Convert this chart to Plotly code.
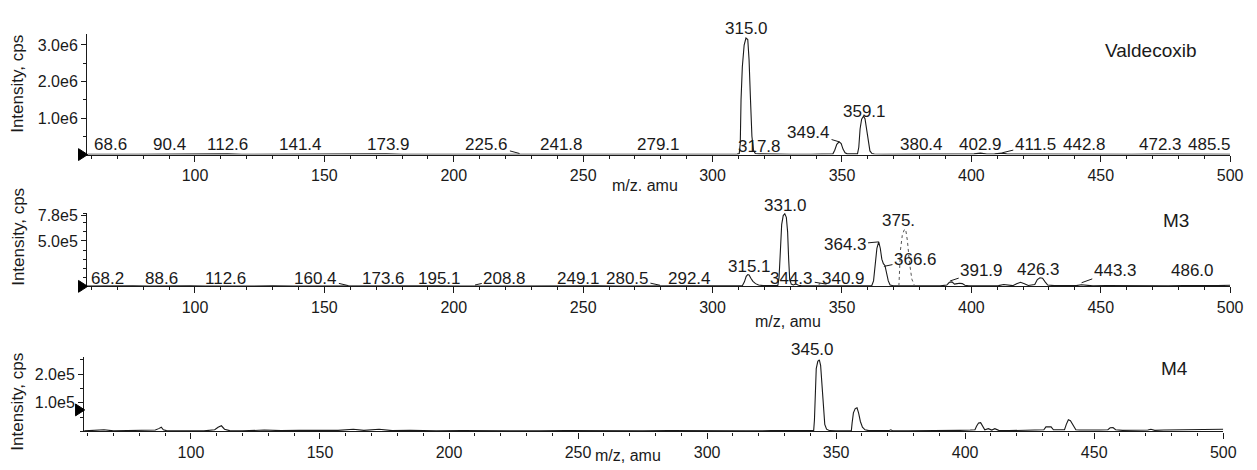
import plotly.graph_objects as go

# ---------------- data ----------------
# Valdecoxib spectrum (m/z, intensity cps)
vald_mz = [58.5, 62, 66, 68.6, 70, 78, 85, 90.4, 95, 105, 112.6, 118, 128, 133, 141.4, 146, 152, 160, 168,
           173.9, 180, 190, 200, 210, 218, 225.6, 232, 241.8, 250, 260, 270, 279.1, 288, 296, 304, 309.5,
           310.3, 310.7, 311.0, 311.5, 312.2, 312.9, 313.6, 314.1, 314.6, 315.2, 315.8, 316.5, 318, 322, 330,
           338, 344, 346.5, 347.2, 348.0, 348.9, 349.7, 350.4, 351.2, 352.0, 354, 356.0, 356.5, 357.0, 357.6,
           358.3, 358.9, 359.5, 360.1, 360.8, 361.6, 362.5, 366, 372, 380.4, 388, 396, 401, 403.5, 406, 409,
           412, 414, 420, 430, 442.8, 452, 462, 472.3, 479, 485.5, 492, 500]
vald_int = [0.01e6, 0.015e6, 0.01e6, 0.02e6, 0.01e6, 0.01e6, 0.015e6, 0.02e6, 0.01e6, 0.012e6, 0.02e6, 0.01e6,
            0.012e6, 0.02e6, 0.025e6, 0.02e6, 0.012e6, 0.01e6, 0.012e6, 0.018e6, 0.01e6, 0.01e6, 0.008e6,
            0.01e6, 0.012e6, 0.025e6, 0.01e6, 0.015e6, 0.008e6, 0.008e6, 0.01e6, 0.015e6, 0.008e6, 0.01e6,
            0.01e6, 0.012e6,
            0.03e6, 0.3e6, 1.5e6, 2.4e6, 3.0e6, 3.19e6, 3.15e6, 2.6e6, 1.6e6, 0.5e6, 0.12e6, 0.03e6, 0.02e6,
            0.01e6, 0.01e6, 0.01e6, 0.012e6, 0.02e6, 0.12e6, 0.28e6, 0.35e6, 0.30e6, 0.15e6, 0.05e6, 0.02e6,
            0.012e6, 0.02e6, 0.2e6, 0.7e6, 0.97e6, 1.05e6, 0.98e6, 0.7e6, 0.3e6, 0.1e6, 0.03e6, 0.015e6,
            0.01e6, 0.012e6, 0.02e6, 0.01e6, 0.012e6, 0.02e6, 0.04e6, 0.015e6, 0.02e6, 0.04e6, 0.015e6,
            0.012e6, 0.01e6, 0.015e6, 0.01e6, 0.01e6, 0.015e6, 0.01e6, 0.015e6, 0.01e6, 0.01e6]

# M3 spectrum
m3_mz = [58.3, 62, 66, 70, 76, 82, 87, 92, 98, 104, 111, 116, 122, 130, 138, 146, 152, 159, 165, 172, 180,
         188, 194, 200, 207, 214, 222, 232, 240, 248, 256, 264, 272, 279, 286, 291, 298, 304, 309, 311.5,
         312.3, 313.0, 313.6, 314.1, 314.8, 315.6, 316.6, 317.8, 319.5, 322, 325.2, 325.7, 326.2, 326.7,
         327.3, 327.9, 328.5, 329.0, 329.4, 329.8, 330.4, 331.2, 332.2, 333.2, 334.5, 337, 340.5, 343, 346,
         350, 355, 358, 361.5, 362.2, 362.8, 363.5, 364.2, 364.8, 365.4, 366.0, 366.6, 367.2, 367.9, 368.6,
         369.8, 372, 376, 380, 384, 388, 390.5, 391.5, 392.5, 393.5, 394.5, 395.5, 396.5, 397.5, 399, 403,
         407, 410.5, 412.5, 414.5, 416, 417.5, 419, 420.5, 422, 424.5, 425.5, 426.5, 427.5, 428.5, 429.5,
         432, 436, 440.5, 442.5, 444.5, 447, 452, 458, 464, 470, 476, 482, 486, 490, 495, 500]
m3_int = [0.03e5, 0.05e5, 0.04e5, 0.03e5, 0.05e5, 0.04e5, 0.06e5, 0.04e5, 0.05e5, 0.04e5, 0.06e5, 0.05e5,
          0.04e5, 0.05e5, 0.04e5, 0.05e5, 0.04e5, 0.06e5, 0.04e5, 0.05e5, 0.04e5, 0.05e5, 0.06e5, 0.04e5,
          0.05e5, 0.04e5, 0.05e5, 0.04e5, 0.05e5, 0.04e5, 0.05e5, 0.04e5, 0.05e5, 0.06e5, 0.04e5, 0.05e5,
          0.04e5, 0.05e5, 0.05e5, 0.08e5,
          0.5e5, 1.1e5, 1.3e5, 1.25e5, 0.9e5, 0.55e5, 0.3e5, 0.15e5, 0.08e5, 0.06e5, 0.08e5, 1.0e5, 4.0e5,
          6.8e5, 7.8e5, 8.0e5, 7.6e5, 6.0e5, 3.0e5, 0.8e5, 0.25e5, 0.15e5, 0.25e5, 0.12e5, 0.06e5, 0.05e5,
          0.08e5, 0.06e5, 0.05e5, 0.04e5, 0.05e5, 0.06e5, 0.08e5, 0.6e5, 2.5e5, 4.2e5, 4.9e5, 4.2e5, 3.0e5,
          2.5e5, 2.3e5, 1.6e5, 0.6e5, 0.15e5, 0.06e5, 0.05e5, 0.05e5, 0.04e5, 0.05e5, 0.06e5, 0.15e5,
          0.45e5, 0.5e5, 0.25e5, 0.3e5, 0.35e5, 0.3e5, 0.12e5, 0.06e5, 0.05e5, 0.06e5, 0.08e5, 0.2e5,
          0.15e5, 0.08e5, 0.3e5, 0.45e5, 0.3e5, 0.1e5, 0.2e5, 0.75e5, 0.95e5, 0.9e5, 0.5e5, 0.15e5, 0.08e5,
          0.06e5, 0.08e5, 0.18e5, 0.1e5, 0.06e5, 0.08e5, 0.06e5, 0.07e5, 0.05e5, 0.07e5, 0.1e5, 0.12e5,
          0.1e5, 0.08e5, 0.12e5]
# M3 dotted 375 peak
m3dot_mz = [372.0, 372.3, 372.6, 373.3, 374.0, 374.6, 375.3, 376.1, 377.0, 378.0]
m3dot_int = [0.05e5, 2.0e5, 4.0e5, 5.6e5, 6.2e5, 6.3e5, 5.0e5, 2.6e5, 0.8e5, 0.1e5]

# M4 spectrum
m4_mz = [58.6, 62, 66.3, 70, 76, 82, 86.2, 87.5, 88.5, 89.3, 90.5, 95, 100, 105, 109.2, 110.5, 111.8, 113,
         115, 120, 128.4, 135, 142, 150, 157, 162.9, 167, 172.9, 178, 185, 195, 205, 215, 225, 235, 245, 255,
         265, 275, 285, 295, 305, 315, 325, 333, 338, 341.3, 341.6, 341.9, 342.3, 342.9, 343.5, 344.0, 344.5,
         345.0, 345.6, 346.3, 347.5, 350, 353, 355.9, 356.2, 356.7, 357.4, 358.1, 358.7, 359.4, 360.2,
         361.2, 362.7, 366, 370.4, 371.2, 372, 378, 385, 392, 398, 402, 403.8, 404.4, 405.2, 406.0, 406.8,
         407.6, 409, 410.3, 411.5, 413, 417, 422, 427, 430.5, 431.3, 432.3, 433.3, 434.2, 436, 438.5, 439.2,
         440.0, 440.8, 441.8, 442.9, 444.5, 448, 452, 455.3, 456.2, 457.3, 458.3, 461, 465, 470.8, 472,
         473.5, 477, 482, 488, 494, 500]
m4_int = [0.02e5, 0.03e5, 0.06e5, 0.02e5, 0.03e5, 0.02e5, 0.05e5, 0.1e5, 0.15e5, 0.06e5, 0.03e5, 0.02e5,
          0.03e5, 0.02e5, 0.06e5, 0.15e5, 0.2e5, 0.08e5, 0.03e5, 0.02e5, 0.05e5, 0.03e5, 0.04e5, 0.03e5,
          0.04e5, 0.08e5, 0.04e5, 0.08e5, 0.03e5, 0.04e5, 0.02e5, 0.03e5, 0.02e5, 0.03e5, 0.02e5, 0.03e5,
          0.02e5, 0.03e5, 0.02e5, 0.03e5, 0.02e5, 0.03e5, 0.02e5, 0.03e5, 0.02e5, 0.03e5, 0.03e5, 0.4e5,
          1.5e5, 2.2e5, 2.45e5, 2.5e5, 2.3e5, 1.6e5, 0.8e5, 0.25e5, 0.08e5, 0.03e5, 0.02e5, 0.03e5, 0.03e5,
          0.3e5, 0.65e5, 0.8e5, 0.83e5, 0.65e5, 0.35e5, 0.15e5, 0.06e5, 0.03e5, 0.02e5, 0.03e5, 0.06e5,
          0.02e5, 0.02e5, 0.02e5, 0.03e5, 0.04e5, 0.05e5, 0.06e5, 0.18e5, 0.3e5, 0.31e5, 0.2e5, 0.06e5,
          0.1e5, 0.05e5, 0.1e5, 0.04e5, 0.03e5, 0.04e5, 0.05e5, 0.06e5, 0.16e5, 0.17e5, 0.16e5, 0.06e5,
          0.05e5, 0.06e5, 0.25e5, 0.41e5, 0.38e5, 0.2e5, 0.06e5, 0.05e5, 0.04e5, 0.05e5, 0.06e5, 0.13e5,
          0.14e5, 0.06e5, 0.04e5, 0.05e5, 0.05e5, 0.08e5, 0.04e5, 0.05e5, 0.06e5, 0.05e5, 0.07e5, 0.08e5]

# peak label texts
vald_labels = ["68.6", "90.4", "112.6", "141.4", "173.9", "225.6", "241.8", "279.1", "315.0", "317.8",
               "349.4", "359.1", "380.4", "402.9", "411.5", "442.8", "472.3", "485.5"]
m3_labels = ["68.2", "88.6", "112.6", "160.4", "173.6", "195.1", "208.8", "249.1", "280.5", "292.4",
             "315.1", "331.0", "344.3", "340.9", "364.3", "375.", "366.6", "391.9", "426.3", "443.3", "486.0"]
m4_labels = ["345.0"]

x_ticks = [100, 150, 200, 250, 300, 350, 400, 450, 500]
vald_yticks = [1e6, 2e6, 3e6]
vald_yticktext = ["1.0e6", "2.0e6", "3.0e6"]
m3_yticks = [5e5, 7.8e5]
m3_yticktext = ["5.0e5", "7.8e5"]
m4_yticks = [1e5, 2e5]
m4_yticktext = ["1.0e5", "2.0e5"]

# ---------------- layout of labels (positions) ----------------
# (text x, text y, leader target x, leader target y or None)
vald_label_pos = [(67.5, 0.27e6, None, None), (90.1, 0.27e6, None, None), (112.6, 0.27e6, None, None),
                  (140.9, 0.27e6, None, None), (174.6, 0.27e6, None, None), (212.8, 0.27e6, 225.4, 0.03e6),
                  (241.5, 0.27e6, None, None), (279.0, 0.27e6, None, None), (313.2, 3.46e6, None, None),
                  (318.0, 0.22e6, None, None), (337.1, 0.6e6, 348.9, 0.35e6), (358.9, 1.17e6, None, None),
                  (380.7, 0.27e6, None, None), (403.6, 0.27e6, None, None), (424.7, 0.27e6, 412.0, 0.05e6),
                  (443.8, 0.27e6, None, None), (473.2, 0.27e6, None, None), (492.0, 0.27e6, None, None)]
m3_label_pos = [(66.3, 0.92e5, None, None), (87.0, 0.92e5, None, None), (111.9, 0.92e5, None, None),
                (146.7, 0.92e5, 159.3, 0.08e5), (172.7, 0.92e5, None, None), (194.5, 0.92e5, None, None),
                (219.7, 0.92e5, 208.2, 0.15e5), (248.0, 0.92e5, None, None), (267.1, 0.92e5, 279.7, 0.12e5),
                (291.2, 0.92e5, None, None), (314.1, 2.17e5, None, None), (328.3, 8.9e5, None, None),
                (330.6, 0.85e5, 344.0, 0.25e5), (350.5, 0.85e5, 341.0, 0.25e5), (351.2, 4.57e5, 364.2, 4.9e5),
                (371.9, 7.28e5, None, None), (378.4, 2.93e5, 366.2, 2.2e5), (404.0, 1.74e5, 391.8, 0.6e5),
                (425.8, 1.85e5, None, None), (455.6, 1.74e5, 442.6, 0.4e5), (485.5, 1.74e5, None, None)]
m4_label_pos = [(340.8, 2.86e5, None, None)]
# threshold triangles: (axis, vertical position as fraction of the y domain)
triangle_pos = [("", 0.0), ("2", 0.0), ("3", 0.29)]

FONT = "Liberation Sans, Arial, sans-serif"
INK = "#1a1a1a"

fig = go.Figure()
line_style = dict(color=INK, width=1.1)
fig.add_trace(go.Scatter(x=vald_mz, y=vald_int, mode="lines", line=line_style, xaxis="x", yaxis="y",
                         showlegend=False, hoverinfo="skip"))
fig.add_trace(go.Scatter(x=m3_mz, y=m3_int, mode="lines", line=line_style, xaxis="x2", yaxis="y2",
                         showlegend=False, hoverinfo="skip"))
fig.add_trace(go.Scatter(x=m3dot_mz, y=m3dot_int, mode="lines", line=dict(color="#555", width=1, dash="dot"),
                         xaxis="x2", yaxis="y2", showlegend=False, hoverinfo="skip"))
fig.add_trace(go.Scatter(x=m4_mz, y=m4_int, mode="lines", line=line_style, xaxis="x3", yaxis="y3",
                         showlegend=False, hoverinfo="skip"))


def xaxis(domain, rng, anchor):
    return dict(domain=domain, range=rng, anchor=anchor, showline=True, linecolor=INK, linewidth=1.2,
                ticks="outside", ticklen=6, tickwidth=1.2, tickcolor=INK, tickvals=x_ticks,
                tickfont=dict(size=16, color=INK, family=FONT), showgrid=False, zeroline=False,
                minor=dict(ticks="outside", ticklen=3, tickwidth=1, tickcolor=INK, dtick=10, tick0=0,
                           showgrid=False))


def yaxis(domain, rng, anchor, tv, tt, mdt):
    return dict(domain=domain, range=rng, anchor=anchor, showline=True, linecolor=INK, linewidth=1.2,
                ticks="outside", ticklen=5, tickwidth=1.2, tickcolor=INK, tickvals=tv, ticktext=tt,
                tickfont=dict(size=16, color=INK, family=FONT), showgrid=False, zeroline=False,
                minor=dict(ticks="outside", ticklen=3, tickwidth=1, tickcolor=INK, dtick=mdt, tick0=0,
                           showgrid=False))


W, H = 1257, 470
YMAX = {"y": 3.3e6, "y2": 8.1e5, "y3": 2.6e5}
fig.update_layout(
    width=W, height=H, autosize=False, margin=dict(l=0, r=0, t=0, b=0),
    paper_bgcolor="white", plot_bgcolor="white", font=dict(family=FONT, color=INK, size=16),
    xaxis=xaxis([88 / W, 1243 / W], [58.3, 500], "y"),
    yaxis=yaxis([1 - 150.5 / H, 1 - 28.4 / H], [0, YMAX["y"]], "x", vald_yticks, vald_yticktext, 5e5),
    xaxis2=xaxis([88 / W, 1243 / W], [58.3, 500], "y2"),
    yaxis2=yaxis([1 - 284 / H, 1 - 209.5 / H], [0, YMAX["y2"]], "x2", m3_yticks, m3_yticktext, 1e5),
    xaxis3=xaxis([85 / W, 1236 / W], [58.6, 500], "y3"),
    yaxis3=yaxis([1 - 431 / H, 1 - 355.6 / H], [0, YMAX["y3"]], "x3", m4_yticks, m4_yticktext, 0.5e5),
)

# black right-pointing triangles at the left end of each panel
shapes = []
for sfx, fy in triangle_pos:
    shapes.append(dict(type="path", xref="x" + sfx + " domain", yref="y" + sfx + " domain",
                       path="M -0.0065 %.4f L 0.0012 %.4f L -0.0065 %.4f Z" % (fy - 0.05, fy, fy + 0.05),
                       fillcolor="black", line=dict(color="black", width=1)))
# the y-domain is ~120 px tall: convert a ±6 px half height per panel
fixed = []
for sh, (sfx, fy) in zip(shapes, triangle_pos):
    dom = fig.layout["yaxis" + sfx].domain
    half = 6 / ((dom[1] - dom[0]) * H)
    sh["path"] = "M -0.0075 %.4f L 0.0005 %.4f L -0.0075 %.4f Z" % (fy - half, fy, fy + half)
    fixed.append(sh)
fig.update_layout(shapes=fixed)

ann = []
LABEL_FONT = dict(size=17, color=INK, family=FONT)


def add_labels(texts, pos, xr, yr):
    for t, (tx, ty, hx, hy) in zip(texts, pos):
        if hx is None:
            if ty > YMAX[yr]:
                # above the axis top: place relative to the axis domain so it is not hidden
                ann.append(dict(text=t, x=tx, y=ty / YMAX[yr], xref=xr, yref=yr + " domain",
                                showarrow=False, xanchor="center", yanchor="middle", font=LABEL_FONT))
            else:
                ann.append(dict(text=t, x=tx, y=ty, xref=xr, yref=yr, showarrow=False,
                                xanchor="center", yanchor="middle", font=LABEL_FONT))
        else:
            ann.append(dict(text=t, x=hx, y=hy, ax=tx, ay=ty, xref=xr, yref=yr, axref=xr, ayref=yr,
                            showarrow=True, arrowhead=0, arrowwidth=1, arrowcolor=INK, standoff=0,
                            xanchor="center", yanchor="middle", font=LABEL_FONT))


add_labels(vald_labels, vald_label_pos, "x", "y")
add_labels(m3_labels, m3_label_pos, "x2", "y2")
add_labels(m4_labels, m4_label_pos, "x3", "y3")

# titles
for txt, px, py in [("m/z. amu", 652, 182), ("m/z, amu", 796, 320), ("m/z, amu", 635, 455)]:
    ann.append(dict(text=txt, x=px / W, y=1 - py / H, xref="paper", yref="paper", showarrow=False,
                    xanchor="center", yanchor="middle", font=dict(size=16, color=INK, family=FONT)))
for py in [79, 234, 401]:
    ann.append(dict(text="Intensity, cps", x=18 / W, y=1 - py / H, xref="paper", yref="paper",
                    showarrow=False, textangle=-90, xanchor="center", yanchor="middle",
                    font=dict(size=17, color=INK, family=FONT)))
for txt, px, py in [("Valdecoxib", 1163, 45), ("M3", 1188, 217), ("M4", 1187, 367)]:
    ann.append(dict(text=txt, x=px / W, y=1 - py / H, xref="paper", yref="paper", showarrow=False,
                    xanchor="center", yanchor="middle", font=dict(size=19, color=INK, family=FONT)))

fig.update_layout(annotations=ann)
fig.write_html(
    "out.html",
    config={"displayModeBar": False},
    post_script="document.body.style.margin='0px';document.body.style.overflow='hidden';"
                "document.documentElement.style.overflow='hidden';",
)
